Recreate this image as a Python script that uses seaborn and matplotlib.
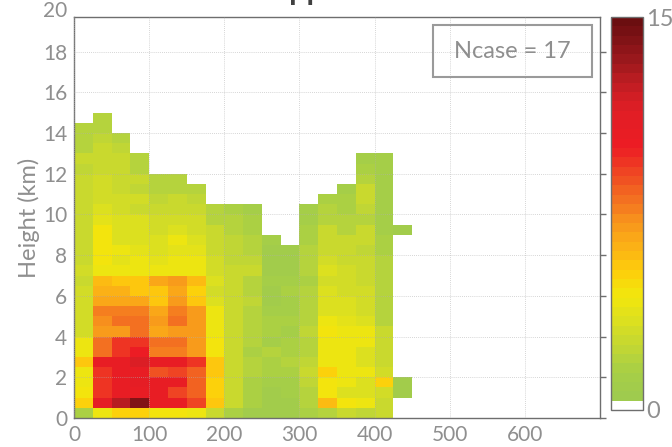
import numpy as np
import matplotlib
matplotlib.use("Agg")
import matplotlib.pyplot as plt
import seaborn as sns
from matplotlib.colors import LinearSegmentedColormap, ListedColormap
from matplotlib.patches import Rectangle

# ---- data: values per column (x bins of 25), listed from bottom (0 km) upward in 0.5 km steps
x_edges_start = [0, 25, 50, 75, 100, 125, 150, 175, 200, 225, 250, 275, 300, 325, 350, 375, 400, 425]
col_000 = [1.5, 5, 4.5, 4, 4, 5.5, 4, 4, 3, 3, 3, 3, 3, 2.8, 3, 2.5, 2.5, 2.5, 2.8, 2.8, 2.5, 2.5, 2.5, 2.5, 2.2, 2.5, 2, 2, 1.8]
col_025 = [4, 11, 9.5, 9.5, 9.5, 10.5, 8, 8, 7, 7.2, 7.5, 6.5, 6.3, 6, 4.2, 4.3, 4.5, 4.5, 4.5, 3.8, 3.5, 3.2, 3, 3, 2.5, 2.8, 2.5, 2.2, 2, 1.8]
col_050 = [5, 12.5, 10.5, 10.5, 10.5, 10.5, 9.5, 9.5, 7, 8, 7.5, 6.5, 6.3, 5.5, 4, 3.8, 4, 3.5, 3.5, 3.5, 3.2, 3, 2.8, 2.5, 2.5, 2.5, 2.2, 2]
col_075 = [5, 14, 10.5, 11, 10.5, 11.5, 10, 9.5, 8, 8, 7.5, 6.5, 5.5, 5.5, 4, 4, 3.8, 3.5, 3.3, 3.3, 2.8, 3, 2.2, 2.5, 2, 2]
col_100 = [4.5, 10.5, 10.5, 10.5, 8.8, 10.5, 7.5, 8, 6.5, 7, 6.7, 5.5, 5.5, 6.5, 4, 3.8, 3.5, 3.5, 3.2, 3.2, 2.5, 2.3, 2, 2]
col_125 = [4.5, 10.5, 9, 10.5, 9.2, 10.5, 7.5, 8, 7, 8, 7.8, 7, 6.5, 7, 4.2, 4.2, 3.8, 4.2, 3.5, 3.2, 2.8, 2.5, 2, 2]
col_150 = [4, 9, 8.5, 8.5, 8.5, 9.5, 7, 7, 7, 7, 7, 5.5, 5.2, 6, 4, 4.2, 3.8, 3.5, 3.2, 3, 2.5, 2.3, 2]
col_175 = [2.5, 5.5, 5.2, 5.2, 5.5, 5.5, 4.5, 4.5, 4.2, 4.2, 4.2, 3.5, 3.2, 3.5, 3, 3, 2.5, 2.5, 2.5, 2, 2]
col_200 = [1.5, 2.5, 2.5, 2.8, 2.5, 2.5, 2.5, 2.8, 2.5, 2.5, 2.5, 2.8, 2.5, 2.8, 2.5, 2.3, 2.3, 2.2, 2, 2, 1.5]
col_225 = [1, 1.5, 1.5, 1.5, 2, 1.8, 1.5, 2, 1.8, 2, 1.8, 2.2, 2, 1.8, 2.5, 2.2, 1.8, 2, 1.5, 1.5, 1.2]
col_250 = [1, 1, 1, 1.2, 1.5, 1.5, 1.8, 1.2, 1.5, 1.5, 1.2, 1, 1, 1.2, 1, 1, 1, 1.2]
col_275 = [1, 1, 1.2, 1.2, 1.5, 1.8, 1.5, 1.5, 1.2, 1.5, 1.2, 1.2, 1.5, 1.2, 1, 1, 1]
col_300 = [1.5, 2, 2, 2.2, 2.5, 2.2, 2, 2, 2.2, 2, 1.8, 1.8, 1.8, 1.5, 1.8, 1.8, 1.8, 1.5, 1.5, 1.2, 1.2]
col_325 = [2, 5.8, 4.5, 4.5, 5, 4, 4.2, 4, 4.5, 4, 3.5, 3.5, 3.5, 3, 3.5, 3, 2.5, 2.5, 2.5, 2, 2, 1.5]
col_350 = [2.5, 4.5, 3.5, 4, 4.2, 4, 4, 4, 4, 3.8, 3.5, 3.5, 3.2, 3, 3, 2.5, 2.5, 2.5, 2, 2, 1.5, 1.5, 1.2]
col_375 = [2.3, 4.2, 3.5, 3.5, 4, 3.5, 3.5, 4, 4, 3.5, 3, 3.2, 3, 2.5, 2.5, 2.5, 2.2, 2.5, 2.5, 2, 2.2, 2.8, 2.5, 2, 1.5, 1.2]
col_400 = [2.5, 2.5, 3, 5, 3, 2.5, 2.5, 2.5, 2.5, 2, 2, 2, 2, 1.8, 2, 1.8, 1.5, 1.5, 1.2, 1.2, 1.2, 1.2, 1.2, 1.2, 1.2, 1.2]
col_425 = [0, 0, 1, 1, 0, 0, 0, 0, 0, 0, 0, 0, 0, 0, 0, 0, 0, 0, 1]
columns = [col_000, col_025, col_050, col_075, col_100, col_125, col_150, col_175, col_200,
           col_225, col_250, col_275, col_300, col_325, col_350, col_375, col_400, col_425]
ncase_label = "Ncase = 17"
cbar_min, cbar_max = 0, 15

# ---- long-form table built from the arrays
xs, ys, ws = [], [], []
for x0, col in zip(x_edges_start, columns):
    for i, v in enumerate(col):
        if v > 0:
            xs.append(x0 + 12.5)
            ys.append(i * 0.5 + 0.25)
            ws.append(v)

# ---- style
sns.set_style("white")
plt.rcParams['font.family'] = ['Lato', 'DejaVu Sans']
gray_txt = "#8f8f8f"
spine_c = "#6e6e6e"

# ---- colormap (discrete bands, lowest band white)
anchors = [(0.0, "#9fcb4e"), (1.0, "#a8cf45"), (2.0, "#c3d733"), (3.0, "#dce01f"),
           (4.0, "#f2e70d"), (5.0, "#fdce0b"), (6.0, "#fbb116"), (7.0, "#f7941d"),
           (8.0, "#f36b21"), (9.0, "#ef4423"), (10.0, "#ed1c24"), (11.5, "#e01e25"),
           (12.5, "#c11d23"), (13.5, "#9a181c"), (15.0, "#6b0e10")]
base = LinearSegmentedColormap.from_list("c", [(v / 15.0, c) for v, c in anchors])
nb = 42
cols = base(np.linspace(0, 1, nb - 1))
cols = np.vstack([[1, 1, 1, 1], cols])
cmap = ListedColormap(cols)

fig = plt.figure(figsize=(6.72, 4.47), dpi=100)
ax = fig.add_axes([74 / 672, (447 - 418) / 447, 526 / 672, 401 / 447])
cax = fig.add_axes([611 / 672, (447 - 410) / 447, 32 / 672, 393 / 447])

sns.histplot(x=xs, y=ys, weights=ws, binwidth=(25, 0.5), binrange=((0, 450), (0, 15)),
             cmap=cmap, vmin=cbar_min, vmax=cbar_max, cbar=True, cbar_ax=cax, ax=ax)

ax.set_xlim(0, 700)
ax.set_ylim(0, 19.7)
ax.set_xticks([0, 100, 200, 300, 400, 500, 600])
ax.set_yticks(np.arange(0, 19, 2))
ax.set_xlabel("")
ax.set_ylabel("Height (km)", color=gray_txt, fontsize=17, labelpad=2)
ax.tick_params(axis='both', colors=spine_c, labelcolor=gray_txt, labelsize=15,
               direction='out', length=4, width=1)
ax.tick_params(axis='x', pad=1)
ax.tick_params(axis='y', pad=1, right=True)
ax.text(-0.012, 20.0, "20", transform=ax.get_yaxis_transform(), ha='right', va='center',
        color=gray_txt, fontsize=15)
for s in ax.spines.values():
    s.set_visible(True)
    s.set_color(spine_c)
    s.set_linewidth(1)
ax.grid(True, linestyle=(0, (1, 1.5)), color="#b0b0b0", linewidth=0.6, alpha=0.7)
ax.set_axisbelow(False)

# Ncase box
ax.add_patch(Rectangle((0.683, 0.850), 0.302, 0.130, transform=ax.transAxes,
                       fill=False, edgecolor="#9a9a9a", linewidth=1.5, zorder=5))
ax.text(0.834, 0.915, ncase_label, transform=ax.transAxes, ha='center', va='center',
        color=gray_txt, fontsize=17, zorder=6)

# title, clipped at the top edge as in the original (only descenders show)
fig.text(0.497, 1.001, "Approach", ha='center', va='baseline',
         color="#404040", fontsize=22, fontweight='bold')

# colorbar styling
cbar = ax.collections[0].colorbar
cbar.set_ticks([cbar_min, cbar_max])
cbar.set_ticklabels(["0", "15"])
cbar.set_ticks([1.41, 3.16, 4.87, 6.59, 8.3, 10.05, 11.76, 13.67], minor=True)
cbar.outline.set_edgecolor(spine_c)
cbar.outline.set_linewidth(1)
cax.tick_params(which='major', length=0, labelsize=17, labelcolor=gray_txt, pad=2)
cax.tick_params(which='minor', direction='in', length=4, left=True, right=True, color="#333333")

fig.savefig("out.png", dpi=100)
